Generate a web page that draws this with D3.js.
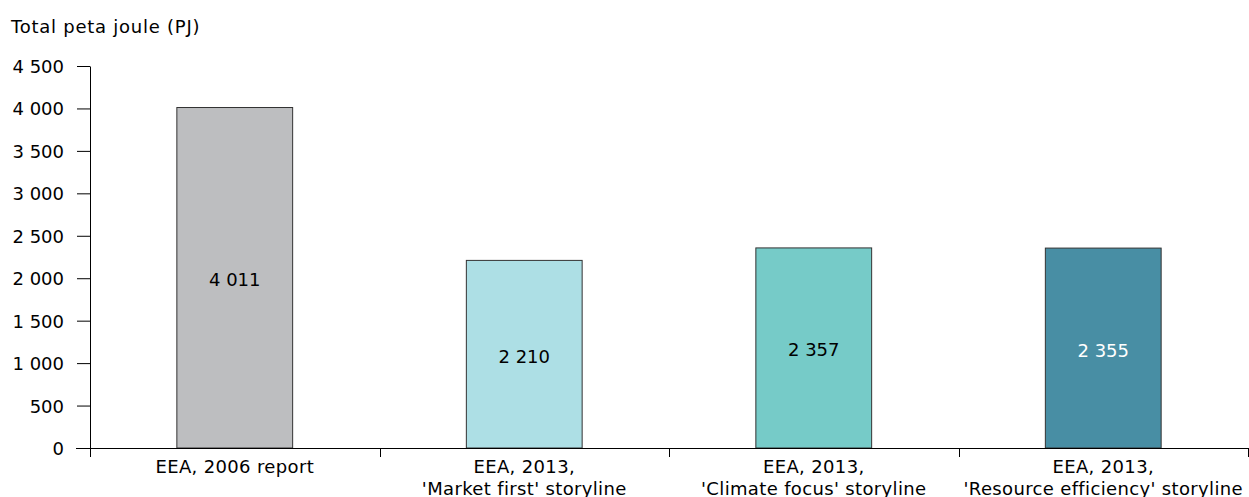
<!DOCTYPE html>
<html><head><meta charset="utf-8">
<script src="https://cdn.jsdelivr.net/npm/d3@7"></script>
<style>body{margin:0;background:#fff}svg text{font-family:Verdana,"DejaVu Sans",sans-serif;font-size:18px;fill:#000}.lbl{letter-spacing:0.35px}</style>
</head><body><svg id="c" width="1249" height="497"></svg>
<script>
const categories = [["EEA, 2006 report"],["EEA, 2013,","'Market first' storyline"],["EEA, 2013,","'Climate focus' storyline"],["EEA, 2013,","'Resource efficiency' storyline"]];
const values = [4011, 2210, 2357, 2355];
const labels = ["4 011","2 210","2 357","2 355"];
const colors = ["#bdbec0","#addfe5","#76cbc8","#488ea4"];
const labelColors = ["#000","#000","#000","#fff"];
const yTicks = [0,500,1000,1500,2000,2500,3000,3500,4000,4500];

const svg = d3.select("#c");
const x = d3.scaleBand().domain(d3.range(categories.length)).range([90,1248]).paddingInner(0.6).paddingOuter(0.3);
const y = d3.scaleLinear().domain([0,4500]).range([448,66]);
const fmt = v => d3.format(",")(v).replace(/,/g," ");

const yAx = svg.append("g").attr("transform","translate(90,0)")
  .call(d3.axisLeft(y).tickValues(yTicks).tickFormat(fmt).tickSize(13).tickPadding(13).tickSizeOuter(0));
yAx.attr("font-size",null).attr("font-family",null);
yAx.select(".domain").attr("stroke","#000");
yAx.selectAll(".tick line").attr("stroke","#000");
yAx.selectAll("text").attr("fill","#000").attr("dy","0.36em");

svg.append("text").attr("class","lbl").attr("x",11).attr("y",33).style("letter-spacing","0.75px").text("Total peta joule (PJ)");

svg.selectAll("rect.bar").data(values).join("rect").attr("class","bar")
  .attr("x",(d,i)=>x(i)).attr("width",x.bandwidth())
  .attr("y",d=>y(d)).attr("height",d=>y(0)-y(d))
  .attr("fill",(d,i)=>colors[i]).attr("stroke","#333").attr("stroke-width",1);

svg.selectAll("text.val").data(values).join("text").attr("class","val")
  .attr("x",(d,i)=>x(i)+x.bandwidth()/2).attr("y",d=>(y(d)+y(0))/2+8.5)
  .attr("text-anchor","middle").style("fill",(d,i)=>labelColors[i]).text((d,i)=>labels[i]);

// x axis
const xLine = svg.append("g");
xLine.append("line").attr("x1",76).attr("x2",1249).attr("y1",448.5).attr("y2",448.5).attr("stroke","#000");
const bounds = d3.range(categories.length+1).map(i=> 90 + i*(1248-90)/categories.length);
xLine.selectAll("line.t").data(bounds).join("line").attr("class","t")
  .attr("x1",d=>Math.round(d)+0.5).attr("x2",d=>Math.round(d)+0.5).attr("y1",448).attr("y2",457).attr("stroke","#000");

categories.forEach((lines,i)=>{
  const cx = x(i)+x.bandwidth()/2;
  const t = svg.append("text").attr("class","lbl").attr("text-anchor","middle").attr("x",cx).attr("y",473);
  lines.forEach((l,j)=>t.append("tspan").attr("x",cx).attr("dy",j===0?0:22).text(l));
});
</script></body></html>
